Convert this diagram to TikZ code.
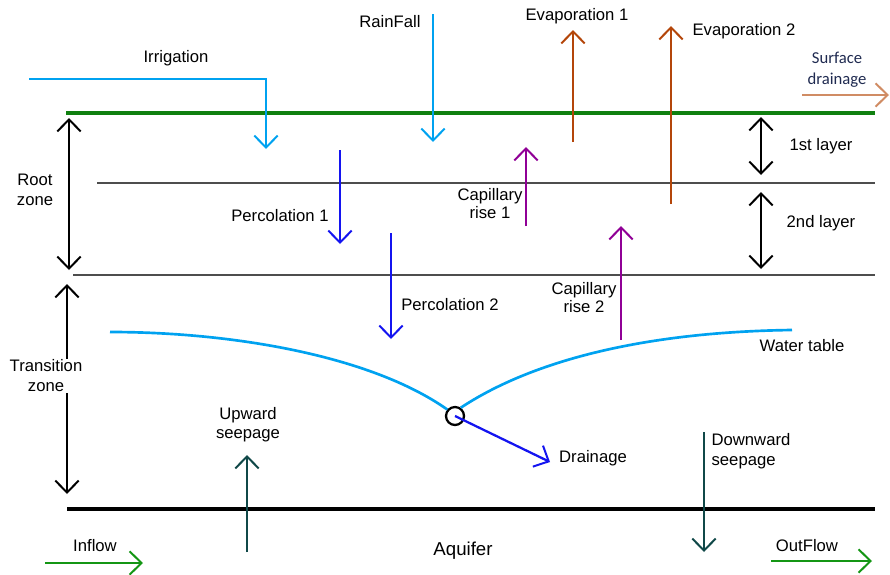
\documentclass[tikz,border=0pt]{standalone}
\usepackage{fontspec}
\setmainfont{Liberation Sans}
\newfontfamily\calibri{Carlito}
\usepackage[HTML]{xcolor}
\usetikzlibrary{positioning, arrows.meta}

\definecolor{sky}{HTML}{00A2F0}
\definecolor{perc}{HTML}{1414F0}
\definecolor{evap}{HTML}{B4460A}
\definecolor{tan}{HTML}{D08C64}
\definecolor{capil}{HTML}{900096}
\definecolor{seep}{HTML}{104848}
\definecolor{soil}{HTML}{108010}
\definecolor{flowg}{HTML}{149614}
\definecolor{navy}{HTML}{1F2A50}

\begin{document}
\begin{tikzpicture}[x=0.75pt,y=-0.75pt,
  font=\fontsize{12.5}{14}\selectfont,
  barb/.tip={Straight Barb[length=9pt,width=17.5pt,line width=1.5pt]},
  flow/.style={line width=1.7pt,-barb},
  both/.style={line width=1.5pt,barb-barb},
  lbl/.style={inner sep=1pt,align=center}]
\useasboundingbox (0,0) rectangle (890,575);

% soil layers
\draw[soil, line width=2.3pt] (66,113) -- (875,113);
\draw[black!70, line width=1.1pt] (97,183) -- (875,183);
\draw[black!70, line width=1.1pt] (73,275) -- (875,275);
\draw[black, line width=2.3pt] (67,509) -- (875,509);

% points
\coordinate (irrS) at (29,79);
\coordinate (irrK) at (266,79);
\coordinate (irrE) at (266,149);
\coordinate (rainS) at (433,14);
\coordinate (rainE) at (433,142);
\coordinate (perA) at (340,150);
\coordinate (perB) at (340,244);
\coordinate (perC) at (391,233);
\coordinate (perD) at (391,339);
\coordinate (evA) at (573,142);
\coordinate (evB) at (573,30);
\coordinate (evC) at (671,204);
\coordinate (evD) at (671,26);
\coordinate (surfS) at (802,95);
\coordinate (surfE) at (889,95);
\coordinate (capA) at (526,226);
\coordinate (capB) at (526,147);
\coordinate (capC) at (621,340);
\coordinate (capD) at (621,226);
\coordinate (rootT) at (69,118);
\coordinate (rootB) at (69,270);
\coordinate (tranT) at (67,284);
\coordinate (tranB) at (67,494);
\coordinate (layA) at (761,117);
\coordinate (layB) at (761,175);
\coordinate (layC) at (761,192);
\coordinate (layD) at (761,269);
\coordinate (upS) at (247,552);
\coordinate (upE) at (247,455);
\coordinate (downS) at (704,432);
\coordinate (downE) at (704,552);
\coordinate (inS) at (45,563);
\coordinate (inE) at (143,563);
\coordinate (outS) at (771,561);
\coordinate (outE) at (872,561);
\coordinate (wtL) at (110,332);
\coordinate (wtR) at (792,330);
\coordinate (drainE) at (550,462);

% labels
\node[lbl] (irr) at (176,58) {Irrigation};
\node[lbl] (rain) at (390,22) {RainFall};
\node[lbl] (ev1) at (577,16) {Evaporation 1};
\node[lbl] (ev2) at (744,31) {Evaporation 2};
\node[lbl, font=\calibri\fontsize{12.5}{16}\selectfont, text=navy] (surf) at (837,70) {Surface\\drainage};
\node[lbl, font=\fontsize{12.5}{15}\selectfont] (root) at (35,190) {Root\\zone};
\node[lbl, font=\fontsize{12.5}{15}\selectfont] (per1) at (280,216) {Percolation 1};
\node[lbl] (per2) at (450,305) {Percolation 2};
\node[lbl, font=\fontsize{12.5}{13.5}\selectfont] (cap1) at (490,204) {Capillary\\rise 1};
\node[lbl, font=\fontsize{12.5}{13.5}\selectfont] (cap2) at (584,298) {Capillary\\rise 2};
\node[lbl] (lay1) at (821,146) {1st layer};
\node[lbl] (lay2) at (821,223) {2nd layer};
\node[lbl] (wt) at (802,346) {Water table};
\node[lbl] (drain) at (593,458) {Drainage};
\node[lbl, font=\fontsize{12.5}{14}\selectfont] (up) at (248,425) {Upward\\seepage};
\node[lbl, align=left, font=\fontsize{12.5}{15}\selectfont] (down) at (751,451) {Downward\\seepage};
\node[lbl] (inf) at (95,546) {Inflow};
\node[lbl] (outf) at (807,546) {OutFlow};
\node[lbl, font=\fontsize{14}{16}\selectfont] (aq) at (463,551) {Aquifer};

% zone arrows
\draw[both] (rootT) -- (rootB);
\draw[both] (tranT) -- (tranB);
\node[lbl, fill=white, font=\fontsize{12.5}{15}\selectfont] (tran) at (46,376) {Transition\\zone};
\draw[both] (layA) -- (layB);
\draw[both] (layC) -- (layD);

% water table
\node[circle, draw, line width=1.7pt, minimum size=13.5pt, inner sep=0pt] (well) at (455,416) {};
\draw[sky, line width=2pt] (wtL) .. controls (230,332) and (370,355) .. (well.140);
\draw[sky, line width=2pt] (well.55) .. controls (530,362) and (640,332) .. (wtR);
\draw[flow, perc] (well.center) -- (drainE);

% flows
\draw[flow, sky] (irrS) -- (irrK) -- (irrE);
\draw[flow, sky] (rainS) -- (rainE);
\draw[flow, perc] (perA) -- (perB);
\draw[flow, perc] (perC) -- (perD);
\draw[flow, evap] (evA) -- (evB);
\draw[flow, evap] (evC) -- (evD);
\draw[flow, tan] (surfS) -- (surfE);
\draw[flow, capil] (capA) -- (capB);
\draw[flow, capil] (capC) -- (capD);
\draw[flow, seep] (upS) -- (upE);
\draw[flow, seep] (downS) -- (downE);
\draw[flow, flowg] (inS) -- (inE);
\draw[flow, flowg] (outS) -- (outE);
\end{tikzpicture}
\end{document}
